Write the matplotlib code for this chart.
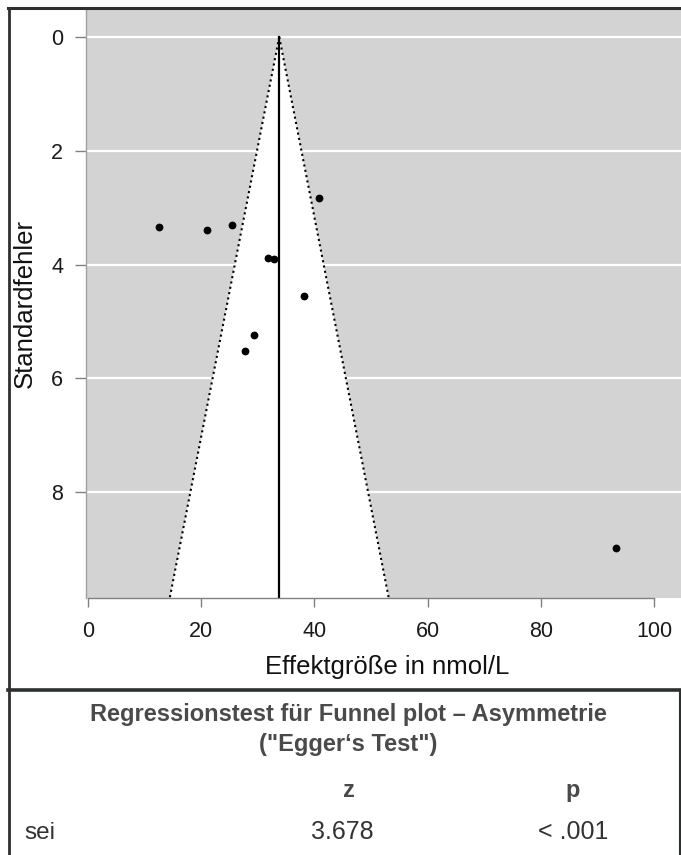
import numpy as np
import matplotlib
matplotlib.use("Agg")
import matplotlib.pyplot as plt
from matplotlib.lines import Line2D

plt.rcParams['font.family'] = ['Liberation Sans', 'DejaVu Sans']

# study effects (nmol/L) and their standard errors
effect = [12.5, 21.0, 25.45, 40.85, 31.75, 32.8, 38.15, 29.4, 27.7, 93.2]
se = [3.34, 3.40, 3.30, 2.83, 3.89, 3.90, 4.55, 5.24, 5.52, 8.99]
pooled = 33.8

xticks = [0, 20, 40, 60, 80, 100]
yticks = [0, 2, 4, 6, 8]

egger_head = ["z", "p"]
egger_row = ["sei", "3.678", "< .001"]

W, H = 681, 855
fig = plt.figure(figsize=(W / 100, H / 100), dpi=100)


def fx(x):
    return x / W


def fy(y):
    return 1 - y / H


ax = fig.add_axes([fx(86), fy(598), fx(681) - fx(86), fy(9) - fy(598)])
ax.set_facecolor('#d3d3d3')
ax.set_xlim(-0.3, 104.7)
ax.set_ylim(9.86, -0.49)

ax.set_yticks(yticks)
ax.set_xticks(xticks)
ax.yaxis.grid(True, color='white', lw=1.6)
ax.set_axisbelow(True)

# funnel region (pseudo 95% CI)
ymax = ax.get_ylim()[0]
fx_left = pooled - 1.96 * ymax
fx_right = pooled + 1.96 * ymax
ax.fill([pooled, fx_left, fx_right], [0, ymax, ymax], color='white', zorder=1, lw=0)
ax.plot([pooled, fx_left], [0, ymax], ls=(0, (1, 1.6)), color='black', lw=1.5, zorder=2)
ax.plot([pooled, fx_right], [0, ymax], ls=(0, (1, 1.6)), color='black', lw=1.5, zorder=2)
ax.plot([pooled, pooled], [0, ymax], color='black', lw=1.6, zorder=2)

ax.plot(effect, se, 'o', color='black', ms=4.6, zorder=3)

for s in ['top', 'right']:
    ax.spines[s].set_visible(False)
ax.spines['left'].set_color('#a0a0a0')
ax.spines['left'].set_linewidth(1.0)
ax.spines['bottom'].set_color('#808080')
ax.spines['bottom'].set_linewidth(1.0)
ax.spines['bottom'].set_bounds(0, 100)

ax.tick_params(axis='x', length=6.5, width=1, color='#808080', pad=10,
               labelsize=15.5, labelcolor='#1a1a1a')
ax.tick_params(axis='y', length=8, width=1, color='#808080', pad=8.5,
               labelsize=15.5, labelcolor='#1a1a1a')

fig.text(fx(387), fy(667), "Effektgröße in nmol/L", ha='center', va='center',
         fontsize=18.5, color='#111111')
fig.text(fx(25), fy(303), "Standardfehler", ha='center', va='center',
         rotation=90, fontsize=18.5, color='#111111')

# outer frame and separator
frame = '#2e3030'
fig.add_artist(Line2D([fx(8), fx(681)], [fy(8), fy(8)], color=frame, lw=2.2))
fig.add_artist(Line2D([fx(9), fx(9)], [fy(8), fy(855)], color=frame, lw=2.0))
fig.add_artist(Line2D([fx(8), fx(681)], [fy(690), fy(690)], color=frame, lw=2.6))
fig.add_artist(Line2D([fx(679.5), fx(679.5)], [fy(690), fy(855)], color=frame, lw=1.5))

# Egger's test table
title_c = '#4a4a4a'
fig.text(fx(348), fy(721), "Regressionstest für Funnel plot – Asymmetrie",
         ha='center', va='baseline', fontsize=17, fontweight='bold', color=title_c)
fig.text(fx(348), fy(751), "(\"Egger‘s Test\")",
         ha='center', va='baseline', fontsize=17, fontweight='bold', color=title_c)
fig.text(fx(349), fy(797), egger_head[0], ha='center', va='baseline',
         fontsize=17, fontweight='bold', color=title_c)
fig.text(fx(573), fy(797), egger_head[1], ha='center', va='baseline',
         fontsize=17, fontweight='bold', color=title_c)
fig.text(fx(24), fy(839), egger_row[0], ha='left', va='baseline',
         fontsize=17.5, color='#333333')
fig.text(fx(342), fy(839), egger_row[1], ha='center', va='baseline',
         fontsize=18, color='#333333')
fig.text(fx(573), fy(839), egger_row[2], ha='center', va='baseline',
         fontsize=18, color='#333333')

fig.savefig("out.png", dpi=100)
